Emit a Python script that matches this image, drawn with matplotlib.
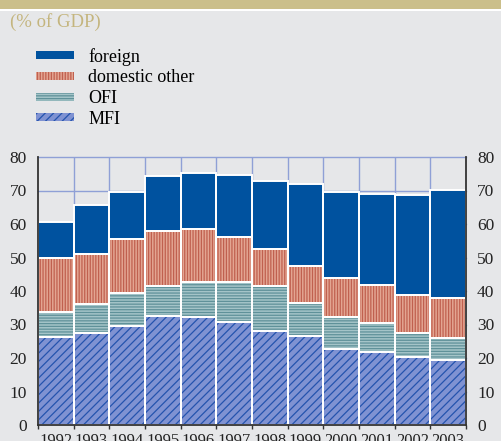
import matplotlib
matplotlib.use("Agg")
import matplotlib.pyplot as plt
from matplotlib.patches import Patch, Rectangle
import numpy as np

years = ["1992", "1993", "1994", "1995", "1996", "1997",
         "1998", "1999", "2000", "2001", "2002", "2003"]
# cumulative tops (% of GDP)
mfi_top = [26.2, 27.4, 29.5, 32.4, 32.2, 30.6, 28.0, 26.6, 22.6, 21.9, 20.3, 19.5]
ofi_top = [33.8, 36.1, 39.3, 41.4, 42.7, 42.7, 41.4, 36.4, 32.2, 30.5, 27.5, 25.9]
dom_top = [50.0, 51.0, 55.5, 57.9, 58.5, 56.0, 52.5, 47.6, 43.8, 41.9, 38.8, 37.9]
total   = [60.5, 65.8, 69.7, 74.2, 75.3, 74.5, 72.9, 71.8, 69.5, 69.0, 68.7, 70.1]

mfi = np.array(mfi_top)
ofi = np.array(ofi_top) - np.array(mfi_top)
dom = np.array(dom_top) - np.array(ofi_top)
foreign = np.array(total) - np.array(dom_top)

labels = ["foreign", "domestic other", "OFI", "MFI"]

BG = "#E6E7E9"
TAN = "#CBBF8A"
GRID = "#8FA0D6"
SERIF = ["Liberation Serif", "DejaVu Serif"]

styles = {
    "foreign": dict(face="#00529F", hatch=None, hcol="#00529F"),
    "domestic other": dict(face="#E3A592", hatch="||||||", hcol="#C0604F"),
    "OFI": dict(face="#A4C4C8", hatch="------", hcol="#5F9199"),
    "MFI": dict(face="#7F92D2", hatch="////", hcol="#2453AE"),
}

plt.rcParams["hatch.linewidth"] = 0.9

W, H = 501, 441
fig = plt.figure(figsize=(W / 100, H / 100), dpi=100)
fig.patch.set_facecolor(BG)

# top band
fig.add_artist(Rectangle((0, 1 - 9 / H), 1, 9 / H, transform=fig.transFigure,
                         facecolor=TAN, edgecolor="none"))
fig.add_artist(Rectangle((0, 1 - 11 / H), 1, 2 / H, transform=fig.transFigure,
                         facecolor="white", edgecolor="none"))
fig.text(10 / W, 1 - 22 / H, "(% of GDP)", color="#C4B57E", fontsize=13.5,
         family=SERIF, va="center", ha="left")

left, right, top, bottom = 38, 466, 157, 425
ax = fig.add_axes([left / W, 1 - bottom / H, (right - left) / W, (bottom - top) / H])
ax.set_facecolor(BG)

x = np.arange(len(years))
series = [("MFI", mfi, np.zeros(len(years))),
          ("OFI", ofi, mfi),
          ("domestic other", dom, mfi + ofi),
          ("foreign", foreign, mfi + ofi + dom)]

for name, vals, base in series:
    st = styles[name]
    ax.bar(x, vals, bottom=base, width=1.0, color=st["face"],
           edgecolor=st["hcol"], hatch=st["hatch"], linewidth=0, zorder=2)
    ax.bar(x, vals, bottom=base, width=1.0, fill=False,
           edgecolor="white", linewidth=1.4, zorder=3)

ax.set_xlim(-0.5, len(years) - 0.5)
ax.set_ylim(0, 80)
ax.set_yticks(np.arange(0, 81, 10))
ax.set_xticks(x)
ax.set_xticklabels(years)
ax.set_xticks(np.arange(-0.5, len(years), 1.0), minor=True)

# grid
for xv in np.arange(0.5, len(years) - 0.5, 1.0):
    ax.axvline(xv, color=GRID, lw=1.0, zorder=1)
for yv in np.arange(10, 81, 10):
    ax.axhline(yv, color=GRID, lw=1.0, zorder=1, clip_on=False)

ax.tick_params(axis="x", which="major", length=0, pad=6, labelsize=12)
ax.tick_params(axis="x", which="minor", length=3, width=1, color="#333333",
               direction="out")
ax.tick_params(axis="y", length=0, pad=8, labelsize=12.5,
               left=True, right=True, labelleft=True, labelright=True)
for lab in ax.get_xticklabels() + ax.get_yticklabels():
    lab.set_family(SERIF)
    lab.set_color("#222222")

for s in ["left", "right", "bottom"]:
    ax.spines[s].set_color("#333333")
    ax.spines[s].set_linewidth(1.3)
    ax.spines[s].set_zorder(4)
ax.spines["top"].set_visible(False)

handles = []
for name in labels:
    st = styles[name]
    handles.append(Patch(facecolor=st["face"], edgecolor=st["hcol"],
                         hatch=st["hatch"], linewidth=0))
leg = fig.legend(handles, labels, loc="upper left",
                 bbox_to_anchor=(36 / W, 1 - 48 / H),
                 frameon=False, prop={"family": SERIF, "size": 13},
                 handlelength=2.1, handleheight=0.32, labelspacing=0.2,
                 handletextpad=0.8, borderaxespad=0, borderpad=0)

fig.savefig("out.png", dpi=100, facecolor=BG)
